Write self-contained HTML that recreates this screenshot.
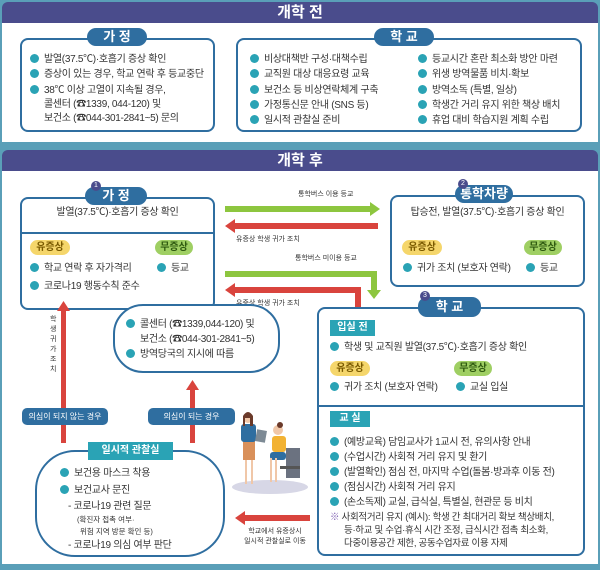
<!DOCTYPE html>
<html><head><meta charset="utf-8"><style>
*{margin:0;padding:0;box-sizing:border-box}
body{width:600px;height:570px;background:#5a9fb8;position:relative;overflow:hidden;font-family:"Liberation Sans","Noto Sans CJK KR",sans-serif;color:#333}
.a{position:absolute}
.hdr{background:#4a4c8c;color:#fff;font-weight:bold;font-size:15px;text-align:center}
.panel{background:#fff}
.box{border:2px solid #2f6ea0;border-radius:8px;background:#fff}
.tab{background:#2f6ea0;color:#fff;font-weight:bold;font-size:13px;text-align:center;border-radius:9px;line-height:18px}
.num{width:10px;height:10px;border-radius:50%;background:#4a4c8c;color:#fff;font-size:7px;text-align:center;line-height:10px}
.t{font-size:10px;letter-spacing:-0.3px;white-space:nowrap;line-height:13px}
.t.c:before{content:"";display:inline-block;width:9px;height:9px;border-radius:50%;background:#2aa3b5;margin-right:5px;vertical-align:-1px}
.b{font-size:10px;font-weight:bold;border-radius:8px;text-align:center;line-height:15px;height:15px}
.y{background:#f5d66b;color:#7a5a00}.g{background:#9fcf63;color:#2f5a10}
.sm{font-size:7px;white-space:nowrap}
.lbl{background:#2f6ea0;color:#fff;font-size:8px;text-align:center;border-radius:5px;line-height:17px;height:17px}
.tag{background:#2aa3b5;color:#fff;font-size:10px;font-weight:bold;text-align:center;line-height:16px;height:16px}
</style></head><body>
<div class="a hdr" style="left:2px;top:2px;width:596px;height:21px;line-height:21px;border-radius:6px 6px 0 0">개학 전</div>
<div class="a panel" style="left:2px;top:23px;width:596px;height:119px"></div>
<div class="a box" style="left:20px;top:38px;width:195px;height:94px"></div>
<div class="a tab" style="left:87px;top:28px;width:60px">가 정</div>
<div class="a t c" style="left:30px;top:53px">발열(37.5℃)·호흡기 증상 확인</div>
<div class="a t c" style="left:30px;top:68px">증상이 있는 경우, 학교 연락 후 등교중단</div>
<div class="a t c" style="left:30px;top:84px">38℃ 이상 고열이 지속될 경우,</div>
<div class="a t" style="left:44px;top:98px">콜센터 (☎1339, 044-120) 및</div>
<div class="a t" style="left:44px;top:112px">보건소 (☎044-301-2841~5) 문의</div>
<div class="a box" style="left:236px;top:38px;width:346px;height:94px"></div>
<div class="a tab" style="left:374px;top:28px;width:60px">학 교</div>
<div class="a t c" style="left:250px;top:53px">비상대책반 구성·대책수립</div>
<div class="a t c" style="left:250px;top:68px">교직원 대상 대응요령 교육</div>
<div class="a t c" style="left:250px;top:84px">보건소 등 비상연락체계 구축</div>
<div class="a t c" style="left:250px;top:99px">가정통신문 안내 (SNS 등)</div>
<div class="a t c" style="left:250px;top:114px">일시적 관찰실 준비</div>
<div class="a t c" style="left:418px;top:53px">등교시간 혼란 최소화 방안 마련</div>
<div class="a t c" style="left:418px;top:68px">위생 방역물품 비치·확보</div>
<div class="a t c" style="left:418px;top:84px">방역소독 (특별, 일상)</div>
<div class="a t c" style="left:418px;top:99px">학생간 거리 유지 위한 책상 배치</div>
<div class="a t c" style="left:418px;top:114px">휴업 대비 학습지원 계획 수립</div>

<div class="a hdr" style="left:2px;top:150px;width:596px;height:21px;line-height:21px;border-radius:6px 6px 0 0">개학 후</div>
<div class="a panel" style="left:2px;top:171px;width:596px;height:393px"></div>

<div class="a box" style="left:20px;top:197px;width:195px;height:113px"></div>
<div class="a" style="left:22px;top:232px;width:191px;height:2px;background:#2f6ea0"></div>
<div class="a tab" style="left:85px;top:187px;width:62px">가 정</div>
<div class="a num" style="left:91px;top:181px">1</div>
<div class="a t" style="left:20px;top:206px;width:195px;text-align:center">발열(37.5℃)·호흡기 증상 확인</div>
<div class="a b y" style="left:30px;top:240px;width:40px">유증상</div>
<div class="a b g" style="left:155px;top:240px;width:38px">무증상</div>
<div class="a t c" style="left:30px;top:262px">학교 연락 후 자가격리</div>
<div class="a t c" style="left:30px;top:280px">코로나19 행동수칙 준수</div>
<div class="a t c" style="left:157px;top:262px">등교</div>

<div class="a box" style="left:390px;top:195px;width:195px;height:92px"></div>
<div class="a tab" style="left:455px;top:185px;width:58px">통학차량</div>
<div class="a num" style="left:458px;top:179px">2</div>
<div class="a t" style="left:390px;top:206px;width:195px;text-align:center">탑승전, 발열(37.5℃)·호흡기 증상 확인</div>
<div class="a b y" style="left:402px;top:240px;width:40px">유증상</div>
<div class="a b g" style="left:524px;top:240px;width:38px">무증상</div>
<div class="a t c" style="left:403px;top:262px">귀가 조치 (보호자 연락)</div>
<div class="a t c" style="left:526px;top:262px">등교</div>

<svg class="a" style="left:0;top:0" width="600" height="570">
<g fill="#8dc63f">
<rect x="225" y="206" width="146" height="6"/><polygon points="370,202 380,209 370,216"/>
<rect x="225" y="271" width="152" height="6"/><rect x="371" y="271" width="6" height="20"/><polygon points="367,290 381,290 374,299"/>
</g>
<g fill="#d9443d">
<rect x="234" y="223" width="144" height="6"/><polygon points="235,219 225,226 235,233"/>
<rect x="234" y="287" width="127" height="6"/><rect x="355" y="287" width="6" height="24"/><polygon points="235,283 225,290 235,297"/>
<rect x="61" y="310" width="5" height="98"/><polygon points="57,311 63.5,301 70,311"/>
<rect x="61" y="425" width="5" height="18"/>
<rect x="190" y="388" width="5" height="20"/><polygon points="186,390 192.5,380 199,390"/>
<rect x="190" y="425" width="5" height="18"/>
<rect x="244" y="515" width="66" height="6"/><polygon points="245,511 235,518 245,525"/>
</g>
<ellipse cx="270" cy="487" rx="38" ry="7" fill="#d7d7e6"/>
<rect x="243" y="438" width="12" height="22" fill="#d9905a"/>
<rect x="241" y="424" width="15" height="18" rx="3" fill="#2f6ea0"/>
<circle cx="248" cy="418" r="5" fill="#f0c7a8"/><path d="M243 416 q5 -8 10 0 v10 h-3 v-8 h-5 v8 h-2z" fill="#6b3a2a"/>
<rect x="256" y="430" width="10" height="12" fill="#7d8a95" transform="rotate(10 261 436)"/>
<rect x="245" y="460" width="2" height="24" fill="#f0c7a8"/><rect x="251" y="460" width="2" height="24" fill="#f0c7a8"/>
<rect x="286" y="448" width="14" height="30" fill="#6b7280"/><rect x="280" y="466" width="20" height="3" fill="#555"/>
<rect x="272" y="436" width="14" height="16" rx="3" fill="#f2b233"/>
<rect x="270" y="452" width="16" height="8" rx="3" fill="#2f6ea0"/>
<circle cx="278" cy="430" r="5" fill="#f0c7a8"/><circle cx="280" cy="425" r="3" fill="#6b3a2a"/>
<rect x="270" y="458" width="2" height="24" fill="#f0c7a8"/><rect x="275" y="458" width="2" height="24" fill="#f0c7a8"/>
</svg>
<div class="a sm" style="left:298px;top:189px">통학버스 이용 등교</div>
<div class="a sm" style="left:236px;top:234px">유증상 학생 귀가 조치</div>
<div class="a sm" style="left:295px;top:253px">통학버스 미이용 등교</div>
<div class="a sm" style="left:236px;top:298px">유증상 학생 귀가 조치</div>
<div class="a sm" style="left:50px;top:315px;width:8px;line-height:10px;white-space:normal">학생귀가조치</div>
<div class="a lbl" style="left:22px;top:408px;width:86px">의심이 되지 않는 경우</div>
<div class="a lbl" style="left:148px;top:408px;width:87px">의심이 되는 경우</div>
<div class="a sm" style="left:240px;top:527px;width:70px;text-align:center;line-height:10px">학교에서 유증상시<br>일시적 관찰실로 이동</div>

<div class="a" style="left:113px;top:304px;width:167px;height:69px;border:2px solid #2f6ea0;border-radius:30px;background:#fff"></div>
<div class="a t c" style="left:126px;top:318px">콜센터 (☎1339,044-120) 및</div>
<div class="a t" style="left:140px;top:333px">보건소 (☎044-301-2841~5)</div>
<div class="a t c" style="left:126px;top:348px">방역당국의 지시에 따름</div>

<div class="a" style="left:35px;top:450px;width:190px;height:107px;border:2px solid #2f6ea0;border-radius:40px;background:#fff"></div>
<div class="a tag" style="left:88px;top:442px;width:85px;height:18px;line-height:18px">일시적 관찰실</div>
<div class="a t c" style="left:60px;top:467px">보건용 마스크 착용</div>
<div class="a t c" style="left:60px;top:484px">보건교사 문진</div>
<div class="a t" style="left:68px;top:500px">- 코로나19 관련 질문</div>
<div class="a sm" style="left:77px;top:514px;font-size:7.5px">(확진자 접촉 여부·</div>
<div class="a sm" style="left:80px;top:526px;font-size:7.5px">위험 지역 방문 확인 등)</div>
<div class="a t" style="left:68px;top:539px">- 코로나19 의심 여부 판단</div>

<div class="a box" style="left:317px;top:307px;width:268px;height:249px"></div>
<div class="a" style="left:319px;top:405px;width:264px;height:2px;background:#2f6ea0"></div>
<div class="a tab" style="left:418px;top:297px;width:63px;height:20px;line-height:20px">학 교</div>
<div class="a num" style="left:420px;top:291px">3</div>
<div class="a tag" style="left:330px;top:320px;width:45px">입실 전</div>
<div class="a t c" style="left:330px;top:341px">학생 및 교직원 발열(37.5℃)·호흡기 증상 확인</div>
<div class="a b y" style="left:330px;top:361px;width:40px">유증상</div>
<div class="a b g" style="left:454px;top:361px;width:38px">무증상</div>
<div class="a t c" style="left:330px;top:381px">귀가 조치 (보호자 연락)</div>
<div class="a t c" style="left:456px;top:381px">교실 입실</div>
<div class="a tag" style="left:330px;top:411px;width:40px">교 실</div>
<div class="a t c" style="left:330px;top:436px">(예방교육) 담임교사가 1교시 전, 유의사항 안내</div>
<div class="a t c" style="left:330px;top:451px">(수업시간) 사회적 거리 유지 및 환기</div>
<div class="a t c" style="left:330px;top:466px">(발열확인) 점심 전, 마지막 수업(돌봄·방과후 이동 전)</div>
<div class="a t c" style="left:330px;top:481px">(점심시간) 사회적 거리 유지</div>
<div class="a t c" style="left:330px;top:496px">(손소독제) 교실, 급식실, 특별실, 현관문 등 비치</div>
<div class="a t" style="left:330px;top:511px;font-size:9.5px"><span style="color:#7a5bb0">※</span> 사회적거리 유지 (예시): 학생 간 최대거리 확보 책상배치,</div>
<div class="a t" style="left:344px;top:524px;font-size:9.5px">등·하교 및 수업·휴식 시간 조정, 급식시간 접촉 최소화,</div>
<div class="a t" style="left:344px;top:537px;font-size:9.5px">다중이용공간 제한, 공동수업자료 이용 자제</div>
</body></html>
